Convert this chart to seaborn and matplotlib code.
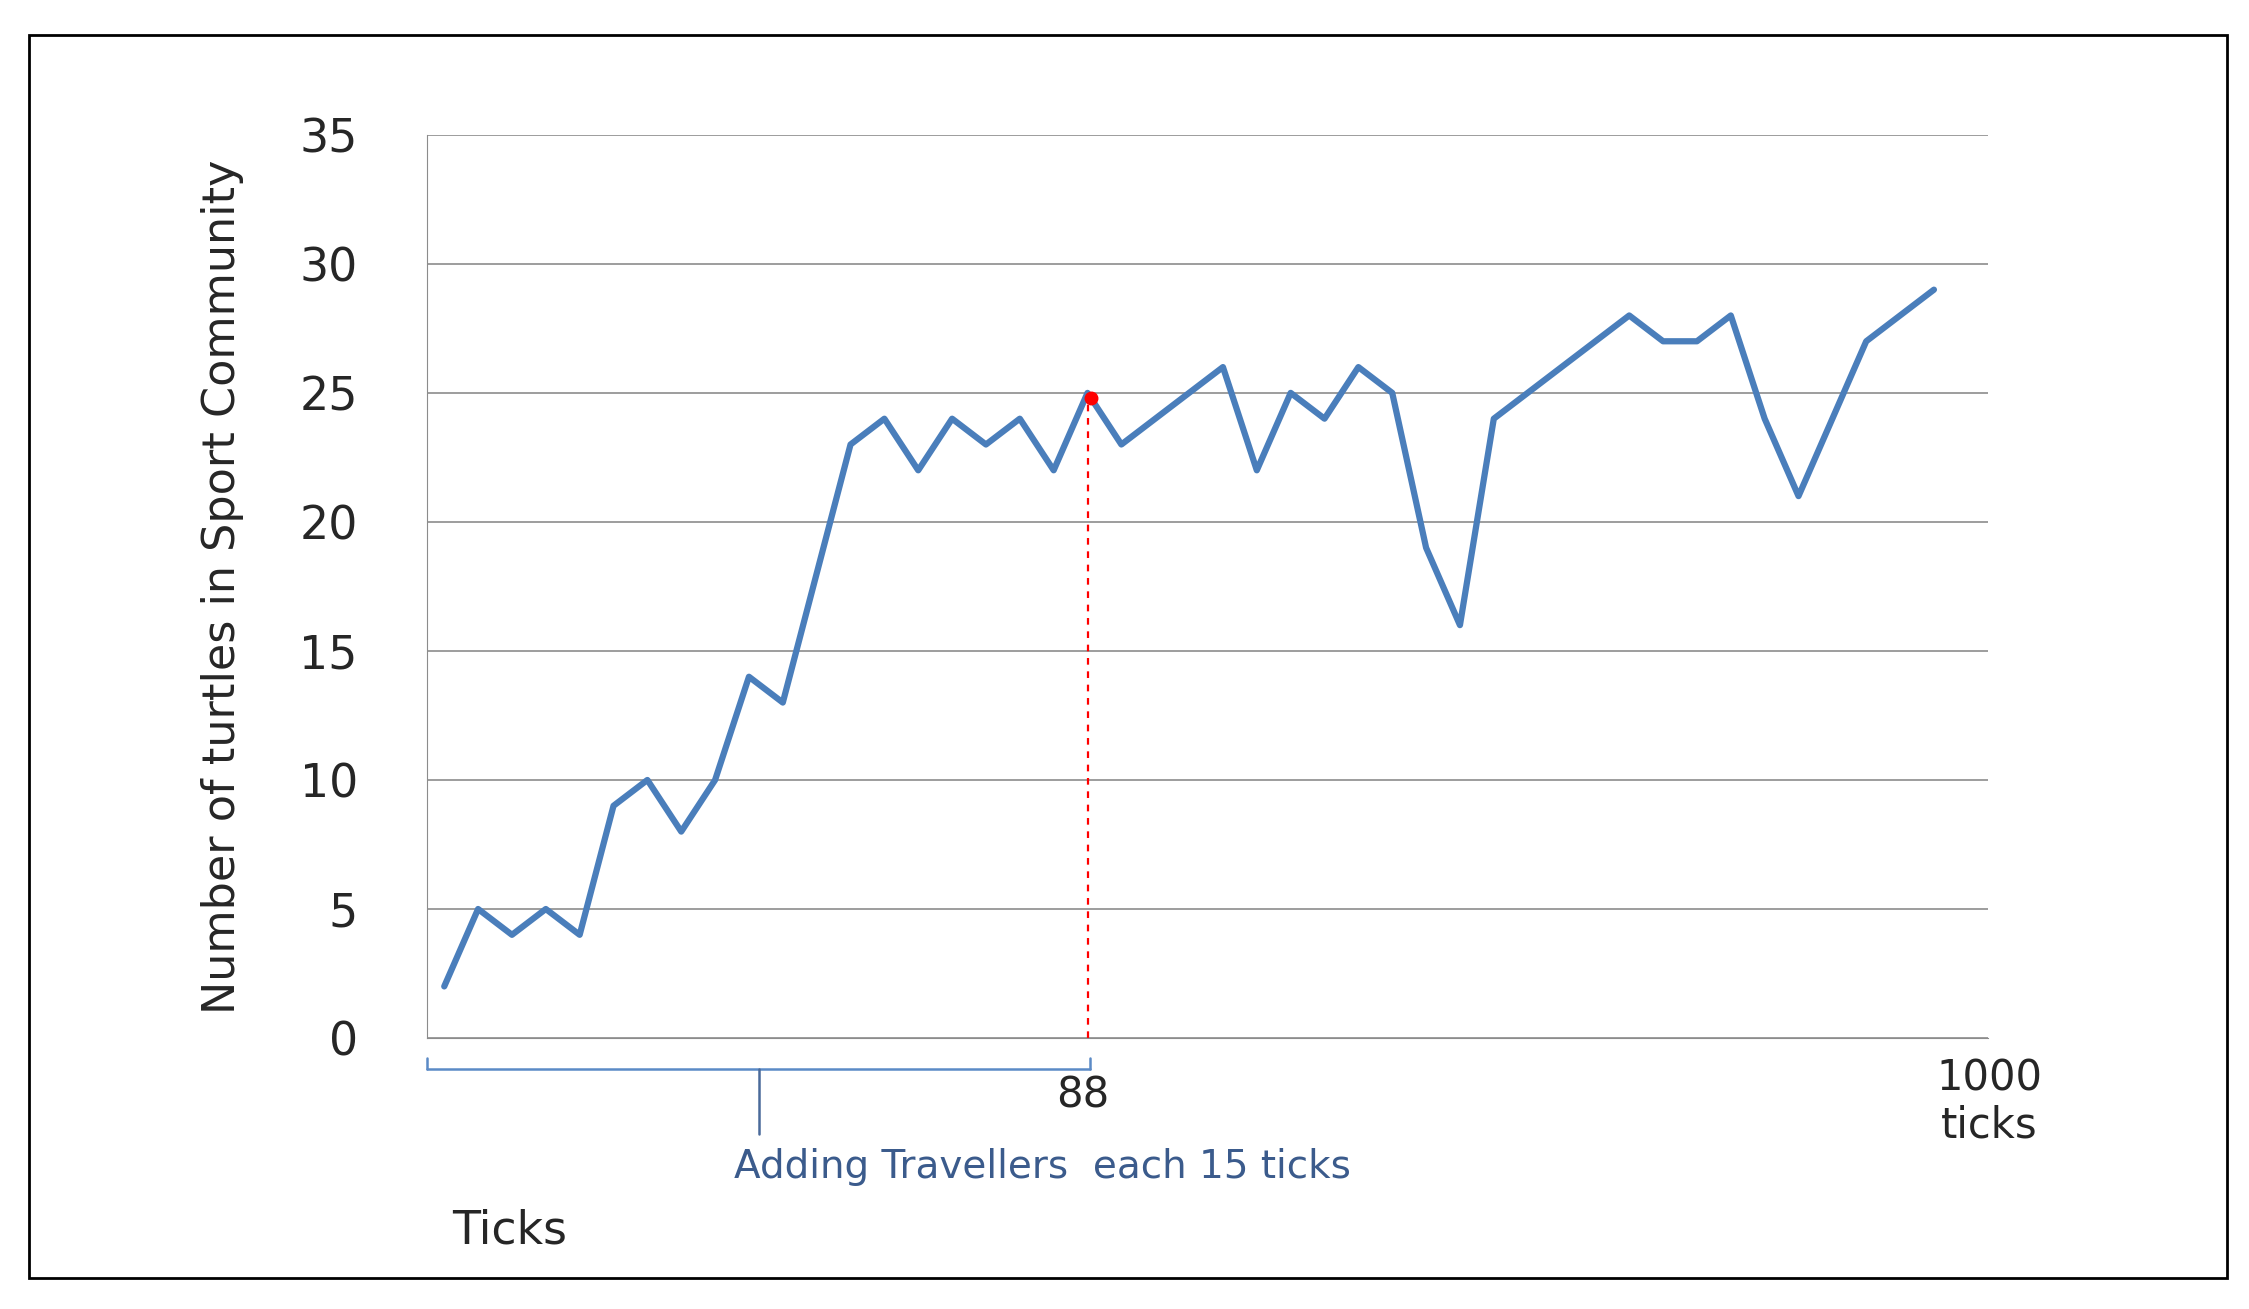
import numpy as np
import matplotlib
matplotlib.use("Agg")
import matplotlib.pyplot as plt
import seaborn as sns
from matplotlib.lines import Line2D
from matplotlib.patches import Rectangle

# turtles in sport community, sampled along the run
turtles = [2, 5, 4, 5, 4, 9, 10, 8, 10, 14, 13, 18, 23, 24, 22, 24, 23, 24, 22, 25,
           23, 24, 25, 26, 22, 25, 24, 26, 25, 19, 16, 24, 25, 26, 27, 28, 27, 27, 28,
           24, 21, 24, 27, 28, 29]
steps = list(range(len(turtles)))
marker_step = 19
y_ticks = [0, 5, 10, 15, 20, 25, 30, 35]

sns.set_style("white")
plt.rcParams["font.family"] = ["DejaVu Sans"]

fig = plt.figure(figsize=(22.49, 13.09), dpi=100)
ax = fig.add_axes([0.190, 0.207, 0.694, 0.690])

sns.lineplot(x=steps, y=turtles, ax=ax, color="#4a7ebb", linewidth=4.5)
ax.plot([marker_step, marker_step], [0, turtles[marker_step]], color="red",
        linestyle=(0, (3, 3)), linewidth=1.6)
ax.plot([marker_step + 0.1], [turtles[marker_step] - 0.2], "o", color="red", markersize=9)

ax.set_xlim(-0.5, 45.6)
ax.set_ylim(0, 35)
ax.set_yticks(y_ticks)
ax.set_xticks([])
ax.tick_params(axis="y", labelsize=33, length=0, pad=50)
ax.grid(axis="y", color="#8c8c8c", linewidth=1.2)
for s in ["top", "right"]:
    ax.spines[s].set_visible(False)
ax.spines["left"].set_color("#8c8c8c")
ax.spines["bottom"].set_color("#8c8c8c")
ax.set_ylabel("Number of turtles in Sport Community", fontsize=32, labelpad=40)

# outer frame
fig.add_artist(Rectangle((0.013, 0.024), 0.977, 0.949, transform=fig.transFigure,
                         fill=False, edgecolor="black", linewidth=2))

# bracket below the axis
bc = "#5b8ac6"
yb = 1 - 745 / 912
tf = fig.transFigure
fig.add_artist(Line2D([298 / 1568, 760 / 1568], [yb, yb], color=bc, lw=1.8, transform=tf))
fig.add_artist(Line2D([298 / 1568, 298 / 1568], [yb, yb + 0.009], color=bc, lw=1.8, transform=tf))
fig.add_artist(Line2D([760 / 1568, 760 / 1568], [yb, yb + 0.009], color=bc, lw=1.8, transform=tf))
fig.add_artist(Line2D([529 / 1568, 529 / 1568], [yb, 1 - 790 / 912], color="#4a6a9a", lw=1.8,
                      transform=tf))

fig.text(755 / 1568, 1 - 763 / 912, "88", fontsize=30, ha="center", va="center")
fig.text(1387 / 1568, 1 - 768 / 912, "1000\nticks", fontsize=30, ha="center", va="center",
         linespacing=1.15)
fig.text(727 / 1568, 1 - 813 / 912, "Adding Travellers  each 15 ticks", fontsize=28,
         ha="center", va="center", color="#3b5b8c")
fig.text(355 / 1568, 1 - 858 / 912, "Ticks", fontsize=33, ha="center", va="center")

fig.savefig("out.png", dpi=100)
